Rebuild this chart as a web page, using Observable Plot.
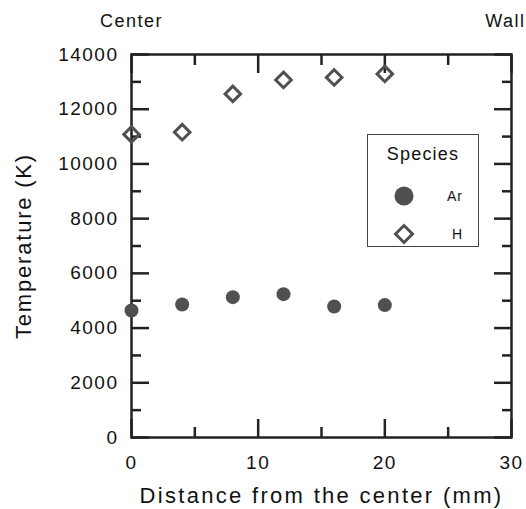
<!DOCTYPE html>
<html>
<head>
<meta charset="utf-8">
<script src="https://cdn.jsdelivr.net/npm/d3@7"></script>
<script src="https://cdn.jsdelivr.net/npm/@observablehq/plot@0.6"></script>
<style>
  html, body { margin: 0; padding: 0; background: #fff; }
  #wrap { position: relative; width: 526px; height: 509px; overflow: hidden; font-family: "Liberation Sans", Arial, sans-serif; color: #111; }
  #wrap svg { font-family: "Liberation Sans", Arial, sans-serif; letter-spacing: 1.5px; color: #111; }
  #wrap svg g[aria-label="x-axis label"] text { font-size: 22px; letter-spacing: 2.3px; }
  #wrap svg g[aria-label="y-axis label"] text { font-size: 22px; letter-spacing: 1.8px; }
  #legend { position: absolute; left: 367px; top: 134px; width: 112px; height: 113px; border: 1px solid #444; box-sizing: border-box; background: #fff; }
  #legend .title { position: absolute; left: 0; width: 100%; top: 9px; text-align: center; font-size: 18px; letter-spacing: 1.2px; }
  #legend .row { position: absolute; left: 0; width: 100%; height: 24px; }
  #legend .row svg { position: absolute; left: 24px; top: 0; }
  #legend .row span { position: absolute; left: 79px; top: 4px; font-size: 14px; letter-spacing: 1px; }
</style>
</head>
<body>
<div id="wrap"></div>
<script>
const distance = [0, 4, 8, 12, 16, 20];
const arTemp = [4640, 4860, 5130, 5240, 4790, 4840];
const hTemp = [11080, 11160, 12560, 13070, 13160, 13290];
const xMajor = [0, 10, 20, 30];
const xMinor = [5, 15, 25];
const yMajor = [0, 2000, 4000, 6000, 8000, 10000, 12000, 14000];
const yMinor = [1000, 3000, 5000, 7000, 9000, 11000, 13000];
const centerLabel = [{x: 0, label: "Center"}];
const wallLabel = [{x: 30, label: "Wall"}];
const speciesNames = ["Ar", "H"];
const markColor = "#505050";

const arData = distance.map((d, i) => ({x: d, y: arTemp[i]}));
const hData = distance.map((d, i) => ({x: d, y: hTemp[i]}));

const tickStyle = {fill: "none", label: null, strokeWidth: 2.5, stroke: "#222"};
const fmt = (d) => String(d);

const chart = Plot.plot({
  width: 526,
  height: 509,
  marginLeft: 131,
  marginRight: 15,
  marginTop: 54,
  marginBottom: 72,
  x: {domain: [0, 30]},
  y: {domain: [0, 14000]},
  marks: [
    Plot.axisX(xMajor, {anchor: "bottom", tickSize: -18, ...tickStyle}),
    Plot.axisX(xMinor, {anchor: "bottom", tickSize: -10, ...tickStyle}),
    Plot.axisX(xMajor, {anchor: "top", tickSize: -18, ...tickStyle}),
    Plot.axisX(xMinor, {anchor: "top", tickSize: -10, ...tickStyle}),
    Plot.axisY(yMajor, {anchor: "left", tickSize: -18, ...tickStyle}),
    Plot.axisY(yMinor, {anchor: "left", tickSize: -10, ...tickStyle}),
    Plot.axisY(yMajor, {anchor: "right", tickSize: -18, ...tickStyle}),
    Plot.axisY(yMinor, {anchor: "right", tickSize: -10, ...tickStyle}),
    Plot.axisX(xMajor, {anchor: "bottom", tickSize: 0, tickPadding: 18, fontSize: 19, tickFormat: fmt,
      label: "Distance from the center (mm)", labelAnchor: "center", labelOffset: 65, labelArrow: "none"}),
    Plot.axisY(yMajor, {anchor: "left", tickSize: 0, tickPadding: 13, fontSize: 19, tickFormat: fmt,
      label: "Temperature (K)", labelAnchor: "center", labelOffset: 116, labelArrow: "none"}),
    Plot.frame({stroke: "#222", strokeWidth: 2.5}),
    Plot.text(centerLabel, {x: "x", y: 14000, text: "label", lineAnchor: "bottom", dy: -28, fontSize: 18}),
    Plot.text(wallLabel, {x: "x", y: 14000, text: "label", lineAnchor: "bottom", textAnchor: "end", dy: -28, dx: 14, fontSize: 18}),
    Plot.dot(arData, {x: "x", y: "y", r: 7, fill: markColor, stroke: "none"}),
    Plot.dot(hData, {x: "x", y: "y", r: 7, symbol: "diamond2", stroke: markColor, strokeWidth: 3, fill: "none"})
  ]
});

const wrap = document.getElementById("wrap");
wrap.appendChild(chart);

const legend = document.createElement("div");
legend.id = "legend";
legend.innerHTML = `<div class="title">Species</div>
  <div class="row" style="top:49px"><svg width="24" height="24"><circle cx="12" cy="12" r="9.5" fill="${markColor}"/></svg><span>${speciesNames[0]}</span></div>
  <div class="row" style="top:87px"><svg width="24" height="24"><path d="M12,3.5L20.5,12L12,20.5L3.5,12Z" fill="none" stroke="${markColor}" stroke-width="3"/></svg><span style="left:84px">${speciesNames[1]}</span></div>`;
wrap.appendChild(legend);
</script>
</body>
</html>
